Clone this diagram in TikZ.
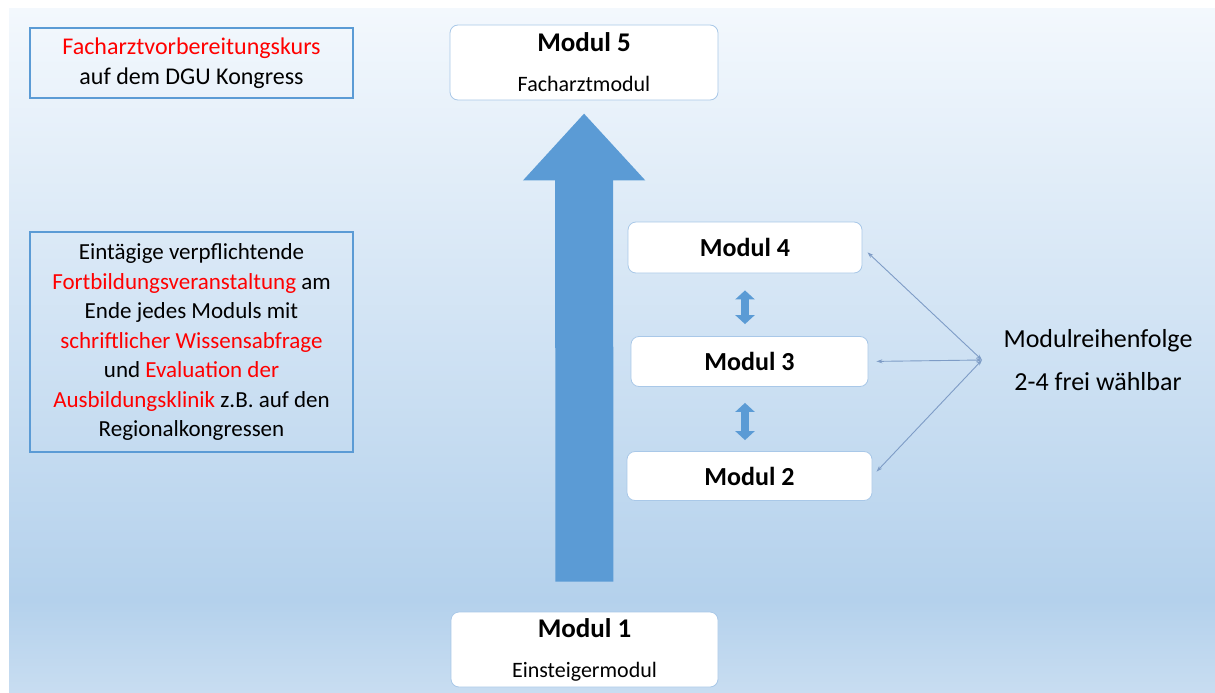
\documentclass[tikz,border=0pt]{standalone}
\usepackage{fontspec}
\setmainfont{Carlito}
\usetikzlibrary{arrows.meta, positioning}
\definecolor{officeblue}{HTML}{5B9BD5}
\definecolor{bgtop}{HTML}{F3F8FD}
\definecolor{bgmid}{HTML}{B4D1EC}
\definecolor{bgbottom}{HTML}{C8DDF1}
\definecolor{boxline}{HTML}{A9C8E8}
\definecolor{linkline}{HTML}{7E9CC6}
\tikzstyle{infobox} = [rectangle, draw=officeblue, line width=1.2pt, inner sep=0pt, text centered, align=center]
\tikzstyle{modul} = [rectangle, rounded corners=8pt, draw=boxline, line width=0.8pt, fill=white, inner sep=0pt, text centered, align=center]
\tikzstyle{bigarrow} = [officeblue, line width=58pt, -{Triangle[width=118pt,length=67pt]}]
\tikzstyle{swaparrow} = [officeblue, line width=8pt, {Triangle[width=19pt,length=9pt]}-{Triangle[width=19pt,length=9pt]}]
\tikzstyle{link} = [linkline, line width=0.9pt, {Stealth[length=6pt,width=4pt]}-{Stealth[length=6pt,width=4pt]}]

\begin{document}
\begin{tikzpicture}[x=1pt, y=-1pt]

%% BACKGROUND

\useasboundingbox (0,0) rectangle (1215,693);
\fill[white] (0,0) rectangle (1215,693);
\shade[top color=bgtop, bottom color=bgmid] (9,9) rectangle (1215,600);
\shade[top color=bgmid, bottom color=bgbottom] (9,600) rectangle (1215,693);

%% NODES

\node (kurs) [infobox, minimum width=323, minimum height=70, font=\fontsize{24}{28}\selectfont] at (191.5,63)
  {\textcolor{red}{Facharztvorbereitungskurs}\\[2pt]
   auf dem DGU Kongress};
\node (fortbildung) [infobox, minimum width=323, minimum height=220, font=\fontsize{23}{29.5}\selectfont] at (191.5,342)
  {Eintägige verpflichtende\\
   \textcolor{red}{Fortbildungsveranstaltung} am\\
   Ende jedes Moduls mit\\
   \textcolor{red}{schriftlicher Wissensabfrage}\\
   und \textcolor{red}{Evaluation der}\\
   \textcolor{red}{Ausbildungsklinik} z.B. auf den\\
   Regionalkongressen};

\node (m5) [modul, minimum width=268, minimum height=75, font=\fontsize{27}{32}\selectfont] at (584,62.5)
  {\textbf{Modul 5}\\[8pt]
   \fontsize{22}{26}\selectfont Facharztmodul};
\node (m4) [modul, minimum width=234, minimum height=51, font=\fontsize{26}{30}\selectfont\bfseries] at (745,247.5)
  {Modul 4};
\node (m3) [modul, minimum width=237, minimum height=50, font=\fontsize{26}{30}\selectfont\bfseries] at (749.5,361.5)
  {Modul 3};
\node (m2) [modul, minimum width=245, minimum height=49, font=\fontsize{26}{30}\selectfont\bfseries] at (749.5,476)
  {Modul 2};
\node (m1) [modul, minimum width=267, minimum height=75, font=\fontsize{27}{32}\selectfont] at (584.5,649.5)
  {\textbf{Modul 1}\\[8pt]
   \fontsize{22}{26}\selectfont Einsteigermodul};

\node (reihenfolge) [align=center, font=\fontsize{26}{43}\selectfont] at (1098,360)
  {Modulreihenfolge\\
   2-4 frei wählbar};
\coordinate (hub) at (982,360);

%% ARROWS

\draw [bigarrow, shorten <=30pt, shorten >=13pt] (m1) -- (m5);
\draw [swaparrow, shorten <=17pt, shorten >=12pt] (m4.south) -- (m4.south |- m3.north);
\draw [swaparrow, shorten <=16pt, shorten >=11pt] (m4.south |- m3.south) -- (m4.south |- m2.north);
\draw [link, shorten >=7pt] (hub) -- (m4.east);
\draw [link, shorten >=8pt] (hub) -- (m3.east);
\draw [link, shorten >=6pt] (hub) -- (m2.east);

\end{tikzpicture}
\end{document}
